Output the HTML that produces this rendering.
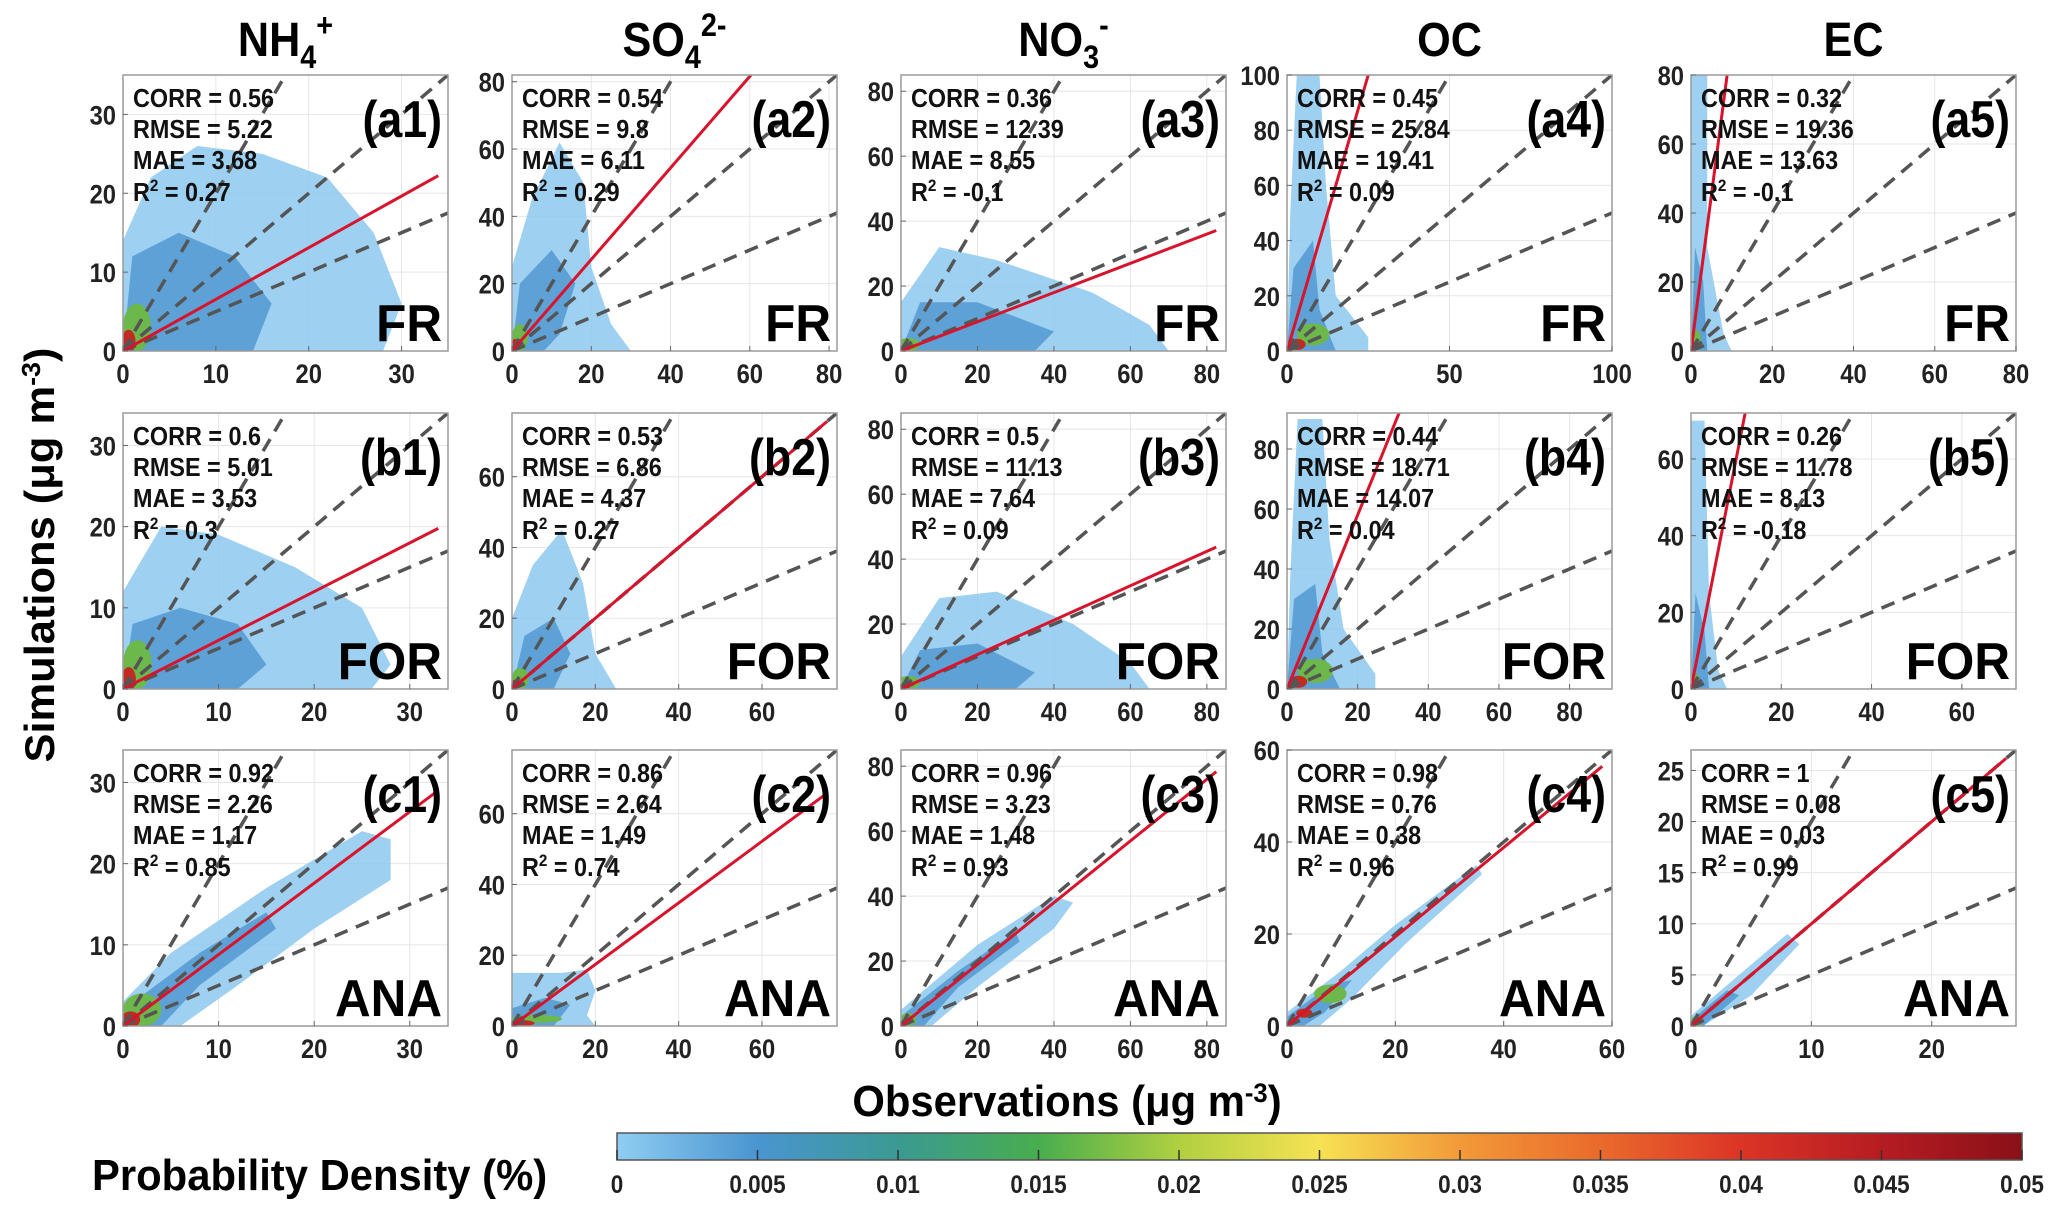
<!DOCTYPE html>
<html><head><meta charset="utf-8"><style>
html,body{margin:0;padding:0;background:#fff;}
svg{display:block;font-family:"Liberation Sans",sans-serif;font-weight:bold;}
</style></head><body>
<svg id="chart" width="2067" height="1211" viewBox="0 0 2067 1211" xmlns="http://www.w3.org/2000/svg">
<defs>
<linearGradient id="cmap" x1="0" x2="1" y1="0" y2="0">
<stop offset="0" stop-color="#8fcdf2"/><stop offset="0.1" stop-color="#4a95d0"/>
<stop offset="0.2" stop-color="#3a9a92"/><stop offset="0.3" stop-color="#48ad4e"/>
<stop offset="0.4" stop-color="#b0d040"/><stop offset="0.5" stop-color="#f6e253"/>
<stop offset="0.6" stop-color="#f29a38"/><stop offset="0.7" stop-color="#ea6a2c"/>
<stop offset="0.8" stop-color="#dc3426"/><stop offset="0.9" stop-color="#b51c22"/>
<stop offset="1" stop-color="#8a1017"/></linearGradient>
</defs>
<g id="panels"></g>
<g id="labels"></g>
</svg>
<script>
const colTitles=["NH4+","SO42-","NO3-","OC","EC"];
const rowRegions=["FR","FOR","ANA"];
const xMaxes=[[35,82,85,100,80],[34,78,85,92,72],[34,78,85,60,27]];
const yMaxes=[[35,82,85,100,80],[34,78,85,92,72],[34,78,85,60,27]];
const xTicks=[[[0,10,20,30],[0,20,40,60,80],[0,20,40,60,80],[0,50,100],[0,20,40,60,80]],
 [[0,10,20,30],[0,20,40,60],[0,20,40,60,80],[0,20,40,60,80],[0,20,40,60]],
 [[0,10,20,30],[0,20,40,60],[0,20,40,60,80],[0,20,40,60],[0,10,20]]];
const yTicks=[[[0,10,20,30],[0,20,40,60,80],[0,20,40,60,80],[0,20,40,60,80,100],[0,20,40,60,80]],
 [[0,10,20,30],[0,20,40,60],[0,20,40,60,80],[0,20,40,60,80],[0,20,40,60]],
 [[0,10,20,30],[0,20,40,60],[0,20,40,60,80],[0,20,40,60],[0,5,10,15,20,25]]];
const fitSlopes=[[0.655,1.36,0.45,4.0,9.0],[0.6,1.0,0.53,2.9,6.0],[0.88,0.87,0.95,0.97,1.0]];
const corrVals=[["0.56","0.54","0.36","0.45","0.32"],["0.6","0.53","0.5","0.44","0.26"],["0.92","0.86","0.96","0.98","1"]];
const rmseVals=[["5.22","9.8","12.39","25.84","19.36"],["5.01","6.86","11.13","18.71","11.78"],["2.26","2.64","3.23","0.76","0.08"]];
const maeVals=[["3.68","6.11","8.55","19.41","13.63"],["3.53","4.37","7.64","14.07","8.13"],["1.17","1.49","1.48","0.38","0.03"]];
const r2Vals=[["0.27","0.29","-0.1","0.09","-0.1"],["0.3","0.27","0.09","0.04","-0.18"],["0.85","0.74","0.93","0.96","0.99"]];
const outerClouds=[
 [[[0,0],[0,14],[3,22],[8,26],[15,25],[22,22],[27,15],[30,6],[28,0]],
  [[0,0],[0,25],[5,45],[12,62],[18,50],[20,25],[25,8],[30,0]],
  [[0,0],[0,15],[10,32],[25,28],[50,18],[65,8],[70,0]],
  [[0,0],[1,50],[3,100],[10,100],[12,60],[15,20],[25,5],[25,0]],
  [[0,0],[0,80],[4,80],[4,30],[8,5],[10,0]]],
 [[[0,0],[0,12],[4,20],[10,19],[18,15],[25,10],[28,3],[26,0]],
  [[0,0],[0,20],[5,35],[12,45],[17,30],[20,10],[25,0]],
  [[0,0],[0,10],[10,28],[25,30],[45,20],[60,8],[65,0]],
  [[0,0],[1,40],[3,90],[10,90],[12,50],[16,20],[25,5],[25,0]],
  [[0,0],[0,70],[3,70],[4,25],[6,5],[8,0]]],
 [[[0,0],[0,3],[5,9],[15,17],[25,24],[28,23],[28,18],[20,12],[12,5],[6,0]],
  [[0,0],[0,15],[5,15],[12,15],[18,16],[20,10],[18,3],[20,0]],
  [[0,0],[0,5],[20,25],[40,40],[45,38],[40,30],[20,12],[8,0]],
  [[0,0],[0,3],[10,12],[20,22],[35,35],[36,33],[22,18],[12,6],[6,0]],
  [[0,0],[0,1],[4,5],[8,9],[9,8],[5,3],[1,0]]]];
const innerClouds=[
 [[[0,0],[1,12],[6,15],[12,12],[16,6],[14,0]],
  [[0,0],[2,20],[10,30],[16,20],[12,5],[8,0]],
  [[0,0],[5,15],[20,15],[40,6],[35,0]],
  [[0,0],[2,30],[8,40],[10,15],[15,0]],
  [[0,0],[1,30],[3,20],[4,0]]],
 [[[0,0],[1,8],[6,10],[12,8],[15,3],[12,0]],
  [[0,0],[3,15],[10,20],[14,10],[10,0]],
  [[0,0],[5,12],[20,14],[35,5],[30,0]],
  [[0,0],[2,30],[8,35],[10,12],[15,0]],
  [[0,0],[1,25],[3,15],[4,0]]],
 [[[0,0],[0,2],[8,9],[15,14],[16,12],[8,5],[4,0]],
  [[0,0],[0,5],[8,8],[14,6],[10,0]],
  [[0,0],[0,3],[15,17],[30,29],[31,26],[15,12],[6,0]],
  [[0,0],[0,2],[8,9],[12,10],[7,3],[3,0]],
  [[0,0],[0,0.6],[3,3.5],[4,3],[1,0]]]];
const hotSpots=[[[1.5,3,1.5,3],[2,4,2,4],[2,2,3,2],[8,6,5,4],[1.5,3,1,3]],
 [[1.5,3,1.5,3],[2,3,2,3],[2,2,3,2],[8,6,5,4],[1,2,1,2]],
 [[2,2,2,2],[6,2,6,1],[2,2,2,2],[8,7,3,2],[0.5,0.5,0.5,0.5]]];

const NS="http://www.w3.org/2000/svg";
const gP=document.getElementById('panels');
const colLeft=[123,512,901,1287,1691], panelW=325;
const rowTop=[75,413,750], panelH=276;
function mk(tag,attrs,parent){const e=document.createElementNS(NS,tag);for(const k in attrs)e.setAttribute(k,attrs[k]);(parent||gP).appendChild(e);return e;}

for(let r=0;r<3;r++)for(let c=0;c<5;c++){
 const L=colLeft[c],T=rowTop[r],W=panelW,H=panelH,xm=xMaxes[r][c],ym=yMaxes[r][c];
 const sx=v=>L+v/xm*W, sy=v=>T+H-v/ym*H;
 const g=mk('g',{});
 
 
 const cp='clip'+r+c;
 const cl=mk('clipPath',{id:cp},g);mk('rect',{x:L,y:T,width:W,height:H},cl);
 xTicks[r][c].forEach(t=>{const l=mk('line',{x1:sx(t),x2:sx(t),y1:T,y2:T+H,stroke:'#e6e6e6','stroke-width':1},g);});
 yTicks[r][c].forEach(t=>{const l=mk('line',{x1:L,x2:L+W,y1:sy(t),y2:sy(t),stroke:'#e6e6e6','stroke-width':1},g);});
 const inner=mk('g',{'clip-path':'url(#'+cp+')'},g);
 const oc=mk('polygon',{points:outerClouds[r][c].map(p=>sx(p[0])+','+sy(p[1])).join(' '),fill:'#8cc8ee',opacity:0.85},inner);
 
 const ic=mk('polygon',{points:innerClouds[r][c].map(p=>sx(p[0])+','+sy(p[1])).join(' '),fill:'#4f95cf',opacity:0.8},inner);
 
 const h=hotSpots[r][c];
 const e1=mk('ellipse',{cx:sx(h[0]),cy:sy(h[1]),rx:Math.max(4,h[2]/xm*W),ry:Math.max(4,h[3]/ym*H),fill:'#6cb84a'},inner);
 
 const e2=mk('ellipse',{cx:sx(h[0]*0.4),cy:sy(h[1]*0.4),rx:Math.max(3,h[2]/xm*W*0.5),ry:Math.max(3,h[3]/ym*H*0.5),fill:'#c22a22'},inner);
 
 [2,1,0.5].forEach(s=>{const xe=Math.min(xm,ym/s);const l=mk('line',{x1:sx(0),y1:sy(0),x2:sx(xe),y2:sy(xe*s),stroke:'#555','stroke-width':3.5,'stroke-dasharray':'14 9'},inner);});
 const s=fitSlopes[r][c];const xe=Math.min(xm*0.97,ym/s);
 const fl=mk('line',{x1:sx(0),y1:sy(0),x2:sx(xe),y2:sy(xe*s),stroke:'#d8142c','stroke-width':3},inner);
 
 const box=mk('rect',{x:L,y:T,width:W,height:H,fill:'none',stroke:'#9a9a9a','stroke-width':1.5},g);
 
 xTicks[r][c].forEach(t=>{mk('line',{x1:sx(t),x2:sx(t),y1:T+H,y2:T+H-5,stroke:'#666'},g);
  const tx=mk('text',{transform:'translate('+sx(t)+','+(T+H+32)+') scale(0.88,1)','font-size':27,'text-anchor':'middle',fill:'#222'},g);tx.textContent=t;
  });
 yTicks[r][c].forEach(t=>{mk('line',{x1:L,x2:L+5,y1:sy(t),y2:sy(t),stroke:'#666'},g);
  const tx=mk('text',{transform:'translate('+(L-7)+','+(sy(t)+10)+') scale(0.88,1)','font-size':27,'text-anchor':'end',fill:'#222'},g);tx.textContent=t;
  });
 const lines=[['CORR = '+corrVals[r][c]],['RMSE = '+rmseVals[r][c]],['MAE = '+maeVals[r][c]],['R2',r2Vals[r][c]]];
 const offs=[32,63,94,126];
 lines.forEach((ln,i)=>{const t=mk('text',{transform:'translate('+(L+10)+','+(T+offs[i])+') scale(0.9,1)','font-size':26,fill:'#111'},g);
  if(ln.length===1)t.textContent=ln[0];else{t.innerHTML='R<tspan dy="-10" font-size="17">2</tspan><tspan dy="10"> = '+ln[1]+'</tspan>';}
  });
 const pl=mk('text',{transform:'translate('+(L+W-6)+','+(T+62)+') scale(0.86,1)','font-size':52,'text-anchor':'end',fill:'#000'},g);
 pl.textContent='('+'abc'[r]+(c+1)+')';
 const rg=mk('text',{transform:'translate('+(L+W-6)+','+(T+H-10)+') scale(0.95,1)','font-size':52,'text-anchor':'end',fill:'#000'},g);
 rg.textContent=rowRegions[r];
}
const titleHtml=['NH<tspan dy="12" font-size="32">4</tspan><tspan dy="-32" font-size="32">+</tspan>',
 'SO<tspan dy="12" font-size="32">4</tspan><tspan dy="-32" font-size="32">2-</tspan>',
 'NO<tspan dy="12" font-size="32">3</tspan><tspan dy="-32" font-size="32">-</tspan>','OC','EC'];
const gl=document.getElementById('labels');
for(let c=0;c<5;c++){const t=mk('text',{transform:'translate('+(colLeft[c]+panelW/2)+',56) scale(0.9,1)','font-size':48,'text-anchor':'middle',fill:'#000'},gl);t.innerHTML=titleHtml[c];
 }
const yt=mk('text',{transform:'translate(54,555) rotate(-90)','font-size':42,'text-anchor':'middle',fill:'#000',textLength:415,lengthAdjust:'spacingAndGlyphs'},gl);
yt.innerHTML='Simulations (μg m<tspan dy="-14" font-size="26">-3</tspan><tspan dy="14">)</tspan>';

const xt=mk('text',{transform:'translate(1067,1116) scale(0.95,1)','font-size':44,'text-anchor':'middle',fill:'#000'},gl);
xt.innerHTML='Observations (μg m<tspan dy="-14" font-size="27">-3</tspan><tspan dy="14">)</tspan>';

const ct=mk('text',{transform:'translate(92,1190) scale(0.95,1)','font-size':44,fill:'#000'},gl);ct.textContent='Probability Density (%)';

const cbTicks=[0,0.005,0.01,0.015,0.02,0.025,0.03,0.035,0.04,0.045,0.05];
const cbL=617,cbR=2022,cbT=1133,cbH=27;
const cb=mk('rect',{x:cbL,y:cbT,width:cbR-cbL,height:cbH,fill:'url(#cmap)',stroke:'#555','stroke-width':1.5},gl);

cbTicks.forEach(v=>{const x=cbL+v/0.05*(cbR-cbL);mk('line',{x1:x,x2:x,y1:cbT+cbH,y2:cbT+cbH-10,stroke:'#333','stroke-width':1.5},gl);
 const t=mk('text',{transform:'translate('+x+',1193) scale(0.9,1)','font-size':25,'text-anchor':'middle',fill:'#222'},gl);t.textContent=v;
 });
</script>
</body></html>
